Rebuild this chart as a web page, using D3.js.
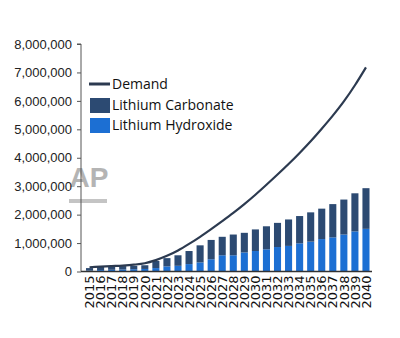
<!DOCTYPE html>
<html>
<head>
<meta charset="utf-8">
<script src="https://cdn.jsdelivr.net/npm/d3@7"></script>
<style>
  html, body { margin: 0; padding: 0; background: #fff; }
  svg { display: block; }
</style>
</head>
<body>
<svg id="chart" width="400" height="338"></svg>
<script>
// Lithium demand vs. supply by chemistry, 2015–2040 (tonnes LCE)
const years = d3.range(2015, 2041).map(String);
const carbonate = [90000, 120000, 120000, 120000, 120000, 130000, 250000, 290000, 370000, 460000, 600000, 680000, 650000, 730000,
                   690000, 760000, 810000, 850000, 930000, 960000, 1030000, 1070000, 1170000, 1230000, 1340000, 1430000];
const hydroxide = [30000, 50000, 60000, 70000, 80000, 90000, 120000, 180000, 200000, 260000, 320000, 430000, 570000, 570000,
                   670000, 720000, 780000, 860000, 900000, 990000, 1050000, 1140000, 1200000, 1300000, 1410000, 1500000];
const demand = [150000, 170000, 190000, 210000, 240000, 290000, 400000, 550000, 740000, 970000, 1220000, 1490000, 1770000, 2060000,
                2370000, 2700000, 3050000, 3410000, 3780000, 4170000, 4580000, 5020000, 5480000, 5980000, 6550000, 7180000];
const yTicks = [0, 1000000, 2000000, 3000000, 4000000, 5000000, 6000000, 7000000, 8000000];
const legendItems = ["Demand", "Lithium Carbonate", "Lithium Hydroxide"];

const colors = { carbonate: "#2c4a72", hydroxide: "#1c6fd3", demand: "#2c3a50" };

const svg = d3.select("#chart");
const x = d3.scaleBand().domain(years).range([84, 371.5]).paddingInner(0.36).paddingOuter(0.18);
const y = d3.scaleLinear().domain([0, 8000000]).range([271.5, 44]);

// watermark
const wm = svg.append("g");
wm.append("text").attr("x", 89).attr("y", 187).attr("text-anchor", "middle")
  .attr("font-family", "Liberation Sans, Arial, sans-serif").attr("font-weight", "bold")
  .attr("font-size", 28).attr("fill", "#a8a8a8").attr("opacity", 0.85).text("AP");
wm.append("rect").attr("x", 69).attr("y", 199).attr("width", 38).attr("height", 4)
  .attr("fill", "#c4c4c4");

// y axis
const yAxis = svg.append("g").attr("transform", "translate(81,0)")
  .call(d3.axisLeft(y).tickValues(yTicks).tickSize(4).tickPadding(5).tickFormat(d3.format(",")));
yAxis.select(".domain").attr("stroke", "#555").attr("d", `M-4,${y(8000000)}H0V${y(0)}`);
yAxis.selectAll(".tick line").attr("stroke", "#555");
yAxis.selectAll(".tick text").attr("font-family", "Liberation Sans, Arial, sans-serif")
  .attr("font-size", 13).attr("fill", "#222");

// stacked bars: hydroxide at bottom, carbonate on top
const bars = svg.append("g");
years.forEach((yr, i) => {
  bars.append("rect").attr("x", x(yr)).attr("width", x.bandwidth())
    .attr("y", y(hydroxide[i])).attr("height", y(0) - y(hydroxide[i])).attr("fill", colors.hydroxide);
  bars.append("rect").attr("x", x(yr)).attr("width", x.bandwidth())
    .attr("y", y(hydroxide[i] + carbonate[i])).attr("height", y(hydroxide[i]) - y(hydroxide[i] + carbonate[i]))
    .attr("fill", colors.carbonate);
});

// x axis
const xAxis = svg.append("g").attr("transform", `translate(0,${y(0)})`)
  .call(d3.axisBottom(x).tickSize(0).tickPadding(4));
xAxis.select(".domain").attr("stroke", "#333").attr("stroke-width", 1.5).attr("d", "M81,0H372");
xAxis.selectAll(".tick text")
  .attr("font-family", "DejaVu Sans, sans-serif").attr("font-size", 13).attr("fill", "#111")
  .attr("transform", "rotate(-90)").attr("text-anchor", "end")
  .attr("dx", "-4").attr("dy", "0.36em").attr("x", 0).attr("y", 0);

// demand line
const line = d3.line().x((d, i) => x(years[i]) + x.bandwidth() / 2).y(d => y(d)).curve(d3.curveMonotoneX);
svg.append("path").datum(demand).attr("d", line).attr("fill", "none")
  .attr("stroke", colors.demand).attr("stroke-width", 2.2);

// legend
const lg = svg.append("g").attr("font-family", "Open Sans, Liberation Sans, sans-serif").attr("font-size", 14).attr("fill", "#111");
lg.append("line").attr("x1", 89).attr("x2", 110).attr("y1", 84).attr("y2", 84)
  .attr("stroke", colors.demand).attr("stroke-width", 3);
lg.append("rect").attr("x", 90).attr("y", 98).attr("width", 20).attr("height", 15).attr("fill", colors.carbonate);
lg.append("rect").attr("x", 90).attr("y", 118).attr("width", 20).attr("height", 15).attr("fill", colors.hydroxide);
[84, 105, 125].forEach((cy, i) => {
  lg.append("text").attr("x", 112).attr("y", cy).attr("dy", "0.35em").text(legendItems[i]);
});
</script>
</body>
</html>
